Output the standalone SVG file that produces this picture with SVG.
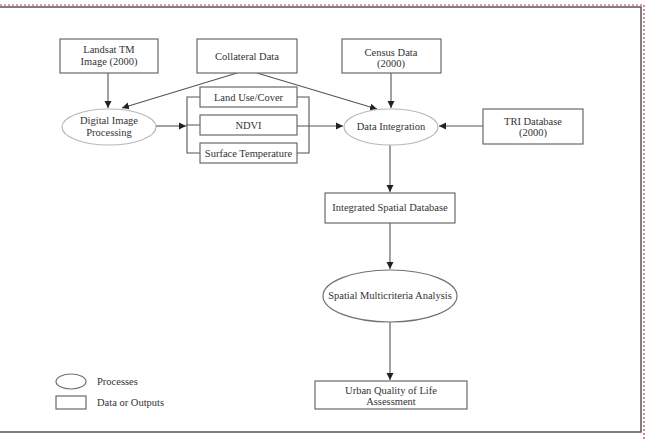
<svg xmlns="http://www.w3.org/2000/svg" width="646" height="441" viewBox="0 0 646 441">
<defs>
<marker id="ah" markerWidth="8" markerHeight="8" refX="7" refY="4" orient="auto" markerUnits="userSpaceOnUse">
<path d="M0,0.5 L7,4 L0,7.5 Z" fill="#222"/>
</marker>
<style>
.box{fill:#fff;stroke:#6a6a6a;stroke-width:1.2}
.ell{fill:#fff;stroke:#b8b8b8;stroke-width:1.2}
.ell2{fill:#fff;stroke:#707070;stroke-width:1.2}
.t{font-family:"Liberation Serif","Times New Roman",serif;font-size:10.5px;fill:#333;text-anchor:middle}
.lt{font-family:"Liberation Serif","Times New Roman",serif;font-size:10.5px;fill:#333}
.c{fill:none;stroke:#555;stroke-width:1.1}
.ca{fill:none;stroke:#555;stroke-width:1.1;marker-end:url(#ah)}
</style>
</defs>
<rect width="646" height="441" fill="#fff"/>
<g id="frame">
<path d="M0,7 H641 V432 H0" fill="none" stroke="#555" stroke-width="1.5"/>
<path d="M0,5 H644 V441" fill="none" stroke="#c04040" stroke-width="1.2" stroke-dasharray="2,2"/>
</g>
<g id="connectors">
<path class="ca" d="M108,73 V108"/>
<path class="ca" d="M237,73 L122,108"/>
<path class="ca" d="M257,73 L377,109"/>
<path class="ca" d="M391,73 V108"/>
<path class="ca" d="M156,126 H186"/>
<path class="c" d="M200,97 H187 V153 H200 M186,125 H200"/>
<path class="c" d="M297,97 H309 V153 H297"/>
<path class="ca" d="M297,126 H343"/>
<path class="ca" d="M483,126 H439"/>
<path class="ca" d="M390,145 V192"/>
<path class="ca" d="M390,223 V269"/>
<path class="ca" d="M390,322 V380"/>
</g>
<g id="landsat">
<rect class="box" x="60" y="39" width="98" height="34"/>
<text class="t" x="109" y="53">Landsat TM</text>
<text class="t" x="109" y="65">Image (2000)</text>
</g>
<g id="collateral">
<rect class="box" x="197" y="39" width="100" height="34"/>
<text class="t" x="247" y="60">Collateral Data</text>
</g>
<g id="census">
<rect class="box" x="342" y="39" width="99" height="34"/>
<text class="t" x="391" y="56">Census Data</text>
<text class="t" x="391" y="67">(2000)</text>
</g>
<g id="dip">
<ellipse class="ell" cx="109" cy="127" rx="47" ry="18"/>
<text class="t" x="109" y="124">Digital Image</text>
<text class="t" x="109" y="136">Processing</text>
</g>
<g id="landuse">
<rect class="box" x="200" y="87" width="97" height="20"/>
<text class="t" x="248.5" y="101">Land Use/Cover</text>
</g>
<g id="ndvi">
<rect class="box" x="200" y="115" width="97" height="20"/>
<text class="t" x="248.5" y="129">NDVI</text>
</g>
<g id="surface">
<rect class="box" x="200" y="143" width="97" height="20"/>
<text class="t" x="248.5" y="157">Surface Temperature</text>
</g>
<g id="integration">
<ellipse class="ell" cx="391" cy="127" rx="47" ry="18"/>
<text class="t" x="391" y="130">Data Integration</text>
</g>
<g id="tri">
<rect class="box" x="483" y="109" width="100" height="35"/>
<text class="t" x="533" y="125">TRI Database</text>
<text class="t" x="533" y="136">(2000)</text>
</g>
<g id="isd">
<rect class="box" x="325" y="193" width="130" height="30"/>
<text class="t" x="390" y="211">Integrated Spatial Database</text>
</g>
<g id="sma">
<ellipse class="ell2" cx="390" cy="296" rx="67" ry="26"/>
<text class="t" x="390" y="299">Spatial Multicriteria Analysis</text>
</g>
<g id="urban">
<rect class="box" x="315" y="381" width="152" height="28"/>
<text class="t" x="391" y="394">Urban Quality of Life</text>
<text class="t" x="391" y="405">Assessment</text>
</g>
<g id="legend">
<ellipse class="ell2" cx="71" cy="381.5" rx="15" ry="7.5"/>
<text class="lt" x="97" y="385">Processes</text>
<rect class="box" x="56" y="396" width="30" height="13"/>
<text class="lt" x="97" y="406">Data or Outputs</text>
</g>
</svg>
